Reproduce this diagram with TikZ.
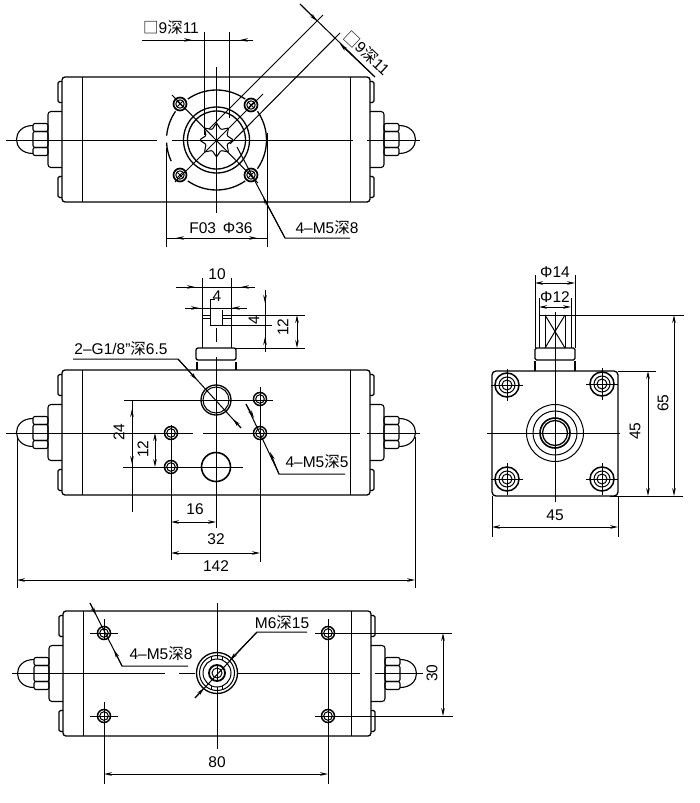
\documentclass[tikz,border=0pt]{standalone}
\usepackage{fontspec}
\setmainfont{Liberation Sans}
\newfontfamily\cjk{Noto Sans CJK SC}
\usetikzlibrary{arrows.meta,shapes.geometric}
\newcommand{\shen}{{\cjk 深}}
\newcommand{\sq}{{\cjk □}}
% line A--B with two arrow tips
\newcommand{\drawDim}[4]{
  \draw (#1) -- (#4);
  \draw[->] (#1) -- (#2);
  \draw[->] (#4) -- (#3);
}
\newcommand{\drawEnd}[1]{
  \begin{scope}[xscale=#1, line width=1.1pt]
    \draw[rounded corners=1.5pt] (-154,-58) -- (-158,-58) -- (-158,-37) -- (-154,-37);
    \draw[rounded corners=1.5pt] (-154,58) -- (-158,58) -- (-158,37) -- (-154,37);
    \draw[rounded corners=3pt] (-154,-28) -- (-168,-28) -- (-168,28) -- (-154,28);
    \draw[rounded corners=2pt] (-183,-16) rectangle (-168,-8);
    \draw[rounded corners=2pt] (-183,-8) rectangle (-168,8);
    \draw[rounded corners=2pt] (-183,8) rectangle (-168,16);
    \draw (-183,-14) .. controls (-205,-14) and (-205,14) .. (-183,14);
  \end{scope}
}
\newcommand{\drawBody}[2]{
  \begin{scope}[shift={(#1,#2)}]
    \draw[body, rounded corners=3pt] (-154,-62.5) rectangle (154,62.5);
    \draw (-134,-62.5) -- (-134,62.5);
    \draw (134,-62.5) -- (134,62.5);
    \drawEnd{1}
    \drawEnd{-1}
  \end{scope}
}
\newcommand{\drawCross}[1]{
  \begin{scope}[shift={(#1)}]
    \draw[line width=1.7pt] (0,0) circle (6.5);
    \draw (0,0) circle (4.2);
    \draw (-3,-3) -- (3,3);
    \draw (-3,3) -- (3,-3);
  \end{scope}
}
\newcommand{\drawHole}[1]{
  \draw[line width=1.5pt] (#1) circle (6.5);
  \draw (#1) circle (4.3);
}
\newcommand{\drawBolt}[1]{
  \begin{scope}[shift={(#1)}]
    \draw[line width=1.5pt] (0,0) circle (12);
    \draw (0,0) circle (8);
    \draw (0,0) circle (5);
    \draw (-16,0) -- (16,0);
    \draw (0,-16) -- (0,16);
  \end{scope}
}
\tikzset{
  body/.style={line width=1.3pt},
  dimtext/.style={font=\fontsize{15.5}{18}\selectfont, inner sep=0pt},
}

\begin{document}
\begin{tikzpicture}[x=1pt, y=-1pt, line width=1pt, >={Stealth[length=8pt,width=3.6pt]}]
  \useasboundingbox (0,0) rectangle (699,803);

  % Top view
  \drawBody{216}{139.5}
  \draw (6,140) -- (157,140);
  \draw (172,140) -- (353,140);
  \draw (367,140) -- (420,140);
  \draw (216,67) -- (216,213);
  \begin{scope}[shift={(216.5,140)}, y=1pt]
    \draw[body] (55:50) arc[start angle=55, end angle=125, radius=50];
    \draw[body] (-35:50) arc[start angle=-35, end angle=35, radius=50];
    \draw[body] (-125:50) arc[start angle=-125, end angle=-55, radius=50];
    \draw[body] (145:50) arc[start angle=145, end angle=175, radius=50];
    \draw[body] (183:50) arc[start angle=183, end angle=205, radius=50];
    \draw[body] (0,0) circle (33);
    \draw[body] (0,0) circle (29);
  \end{scope}
  \node[draw, star, star points=8, star point ratio=1.5, minimum size=34pt, inner sep=0pt, rounded corners=1pt] (drive) at (216.5,140) {};
  \drawCross{180,104}
  \drawCross{251,105}
  \drawCross{180,175}
  \drawCross{251,175}
  \draw (172,95) -- (258,183);
  \draw (175,182) -- (263,94);
  \draw (204,32) -- (204,135);
  \draw (229,32) -- (229,118);
  \drawDim{142,40}{192,40}{240,40}{253,40}
  \node[dimtext] (squareTop) at (171,28) {\sq 9\shen 11};
  \draw (209,129) -- (323,15);
  \draw (230,144) -- (340,33);
  \drawDim{300,4}{317,21}{340,44}{375,77}
  \node[dimtext, rotate=-43] (squareDiag) at (367,53) {\sq 9\shen 11};
  \draw (166,148) -- (166,247);
  \draw (267,133) -- (267,247);
  \drawDim{267,238}{176,238}{257,238}{166,238}
  \node[dimtext] (flange) at (221,228) {F03 \,Φ36};
  \draw (237,147) -- (285,238) -- (350,238);
  \draw[->] (285,238) -- (263,197);
  \node[dimtext] (boltTop) at (327,228) {4–M5\shen 8};

  % Front view
  \drawBody{216}{432.5}
  \draw (6,433) -- (193,433);
  \draw (203,433) -- (360,433);
  \draw (367,433) -- (420,433);
  \draw (216,357) -- (216,528);
  \draw (216,328) -- (216,342);
  \draw[body, rounded corners=2pt] (196,348) rectangle (236,360);
  \draw[body] (197,362) -- (197,370);
  \draw[body] (236,362) -- (236,370);
  \draw (202,278) -- (202,348);
  \draw (231,278) -- (231,348);
  \draw (210,325) -- (210,299) -- (215,299);
  \draw (222,325) -- (222,310);
  \draw (202,318) -- (210,318);
  \draw (222,318) -- (231,318);
  \draw (202,315) -- (210,315);
  \draw (222,315) -- (305,315);
  \draw (210,325) -- (272,325);
  \draw (236,348) -- (305,348);
  \drawDim{176,287}{195,287}{241,287}{255,287}
  \node[dimtext] (stemWide) at (217,274) {10};
  \drawDim{185,308}{199,308}{232,308}{247,308}
  \node[dimtext] (stemFlat) at (217,296) {4};
  \drawDim{265,290}{265,303}{265,337}{265,352}
  \node[dimtext, rotate=90] (flatHigh) at (254,320) {4};
  \drawDim{297,330}{297,315}{297,348}{297,332}
  \node[dimtext, rotate=90] (stemHigh) at (283,327) {12};
  \draw[body] (216,400) circle (15);
  \draw (216,400) circle (13);
  \draw[line width=1.6pt] (216,467) circle (14.5);
  \drawHole{260,399}
  \drawHole{260,433}
  \drawHole{171,433}
  \drawHole{171,467}
  \draw (124,400) -- (273,400);
  \draw (123,467) -- (243,467);
  \draw (260,387) -- (260,562);
  \draw (171,425) -- (171,560);
  \drawDim{132,512}{132,409}{132,464}{132,400}
  \node[dimtext, rotate=90] (portHigh) at (119,432) {24};
  \drawDim{155,450}{155,433}{155,467}{155,452}
  \node[dimtext, rotate=90] (holeHigh) at (143,449) {12};
  \draw (73,359) -- (178,359) -- (241,428);
  \draw[->] (178,359) -- (197,380);
  \draw[->] (241,428) -- (233,419);
  \node[dimtext] (portNote) at (121,349) {2–G1/8"\shen 6.5};
  \node[dimtext] (holeNote) at (317,462) {4–M5\shen 5};
  \draw (246,404) -- (279,474) -- (345,474);
  \draw[->] (246,404) -- (254,418);
  \draw[->] (279,474) -- (270,452);
  \drawDim{193,522}{171,522}{216,522}{194,522}
  \node[dimtext] (holeDx) at (195,509) {16};
  \drawDim{215,553}{171,553}{260,553}{216,553}
  \node[dimtext] (holeWide) at (216,539) {32};
  \draw (17,437) -- (17,588);
  \draw (415,437) -- (415,588);
  \drawDim{200,580}{17,580}{415,580}{202,580}
  \node[dimtext] (totalWide) at (216,566) {142};

  % Side view
  \draw[body, rounded corners=4pt] (492,371) rectangle (618,496);
  \draw (487,433) -- (620,433);
  \draw (555,312) -- (555,502);
  \draw[body] (535,361) -- (535,371);
  \draw[body] (575,361) -- (575,371);
  \draw[body, rounded corners=1.5pt] (535,348) rectangle (575,360);
  \draw (535,275) -- (535,348);
  \draw (575,275) -- (575,348);
  \draw (539,298) -- (539,348);
  \draw (571,298) -- (571,348);
  \draw (539,315) -- (684,315);
  \draw (545,315) -- (545,348);
  \draw (565,315) -- (565,348);
  \draw (545,315) -- (565,348);
  \draw (565,315) -- (545,348);
  \drawDim{550,283}{535,283}{575,283}{552,283}
  \node[dimtext] (outerDia) at (555,272) {Φ14};
  \drawDim{550,307}{539,307}{571,307}{552,307}
  \node[dimtext] (innerDia) at (555,297) {Φ12};
  \drawDim{674,400}{674,315}{674,496}{674,402}
  \node[dimtext, rotate=90] (sideHigh) at (663,403) {65};
  \draw (618,371) -- (656,371);
  \draw (610,496) -- (683,496);
  \drawDim{648,430}{648,371}{648,496}{648,432}
  \node[dimtext, rotate=90] (squareHigh) at (635,431) {45};
  \draw (492,496) -- (492,537);
  \draw (618,496) -- (618,537);
  \drawDim{550,527}{492,527}{618,527}{552,527}
  \node[dimtext] (squareWide) at (555,515) {45};
  \drawBolt{507,385}
  \drawBolt{602,384}
  \drawBolt{507,479}
  \drawBolt{602,479}
  \draw (555,433) circle (28.5);
  \draw (555,433) circle (22);
  \draw[line width=1.6pt] (555,433) circle (15);
  \draw[body] (555,433) circle (12.5);

  % Bottom view
  \drawBody{217}{673.5}
  \draw (12,673) -- (165,673);
  \draw (179,673) -- (195,673);
  \draw (237,673) -- (360,673);
  \draw (375,673) -- (423,673);
  \draw (217,603) -- (217,749);
  \draw[body] (217,673) circle (20.5);
  \draw (217,673) circle (17.5);
  \draw (211.5,657) -- (211.5,689);
  \draw (222.5,657) -- (222.5,689);
  \draw[fill=white] (217,673) circle (14);
  \draw[line width=1.8pt] (217,673) circle (8);
  \draw (217,673) circle (5);
  \draw (217,665) -- (217,681);
  \drawHole{104,633}
  \drawHole{328,633}
  \drawHole{104,716}
  \drawHole{328,716}
  \draw (90,633) -- (118,633);
  \draw (104,619) -- (104,640);
  \draw (90,716) -- (118,716);
  \draw (104,702) -- (104,784);
  \draw (328,619) -- (328,784);
  \draw (315,633) -- (452,633);
  \draw (315,716) -- (453,716);
  \drawDim{443,650}{443,633}{443,716}{443,652}
  \node[dimtext, rotate=90] (holeSpan) at (432,673) {30};
  \drawDim{200,774}{104,774}{328,774}{202,774}
  \node[dimtext] (holeDist) at (217,762) {80};
  \draw (90,603) -- (122,666) -- (188,666);
  \draw[->] (90,603) -- (96,615);
  \draw[->] (122,666) -- (114,650);
  \node[dimtext] (baseNote) at (161,654) {4–M5\shen 8};
  \draw (195,698) -- (257,632) -- (307,632);
  \draw[->] (195,698) -- (204,688);
  \draw[->] (257,632) -- (230,660);
  \node[dimtext] (threadNote) at (282,623) {M6\shen 15};
\end{tikzpicture}
\end{document}
